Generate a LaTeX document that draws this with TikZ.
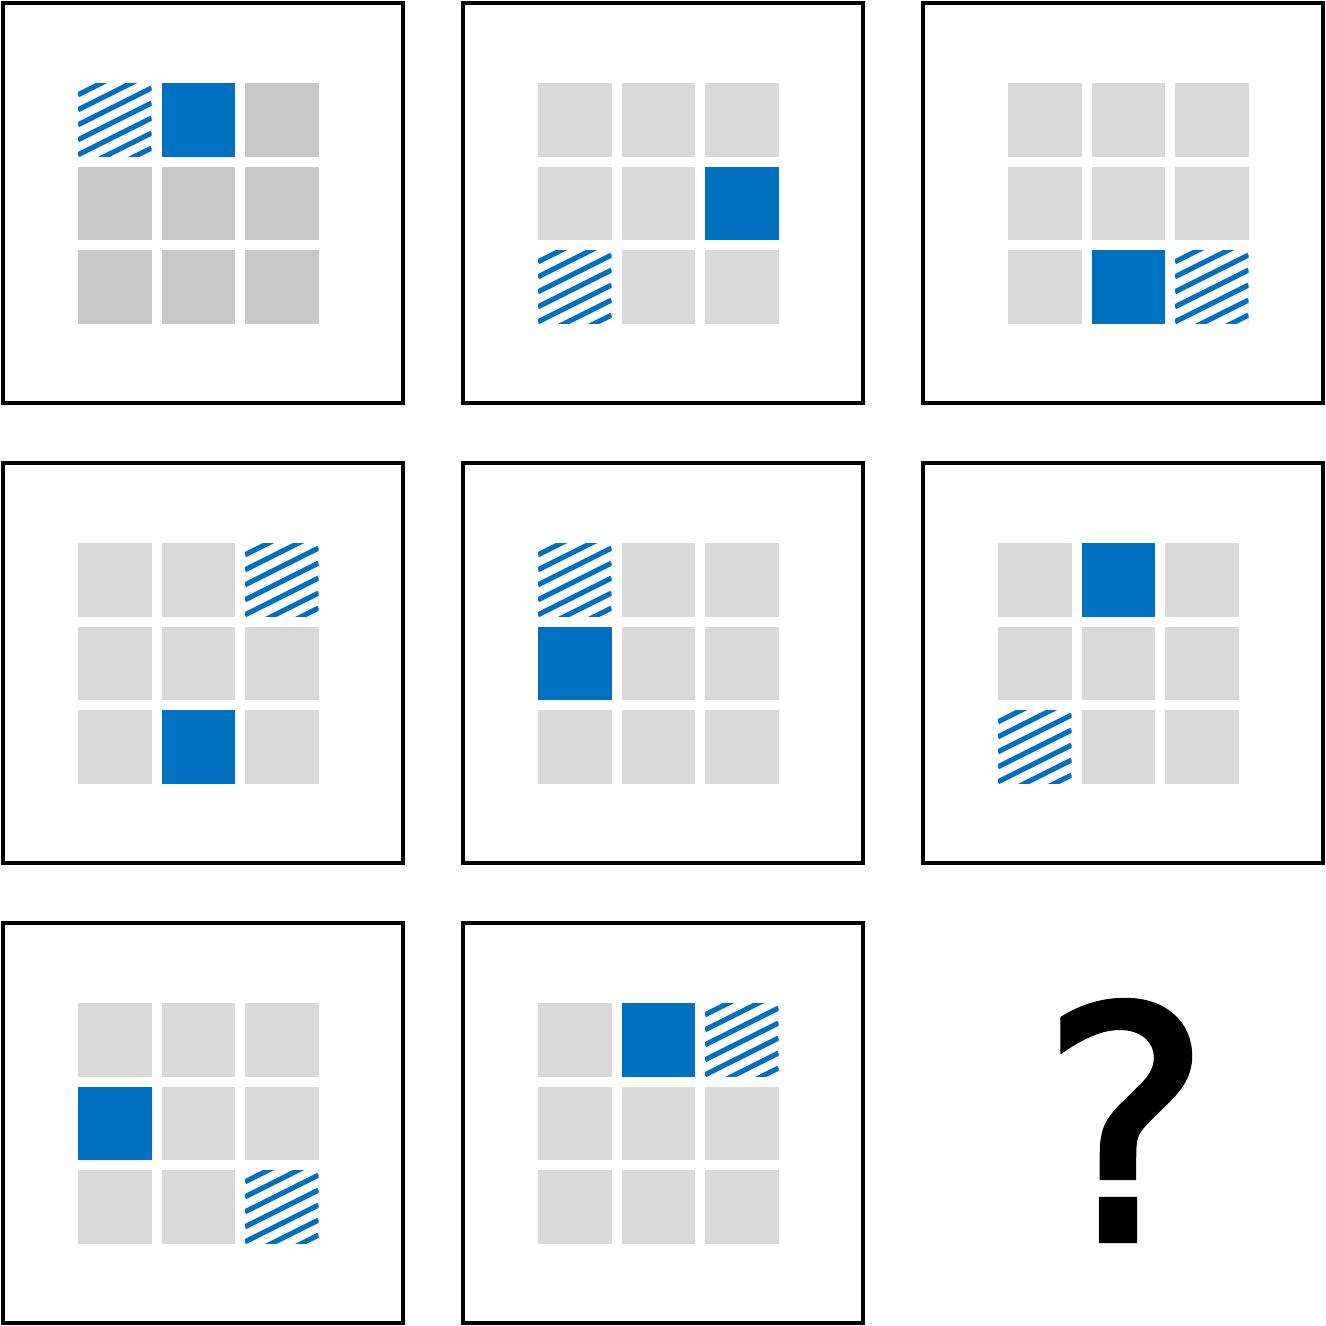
\documentclass[tikz,border=0pt]{standalone}
\usepackage{fontspec}
\newfontfamily\qfont[FakeBold=2]{DejaVu Sans}
\definecolor{qblue}{HTML}{0070C0}
\definecolor{qgray}{HTML}{D9D9D9}
\definecolor{qdark}{HTML}{C8C8C8}
\tikzset{
  panelframe/.style={draw=black, line width=4pt, fill=none, minimum width=400pt, minimum height=400pt, inner sep=0pt, outer sep=0pt, anchor=north west},
  hatchline/.style={draw=qblue, line width=5.2pt},
  qmark/.style={inner sep=0pt, anchor=base, font=\qfont\fontsize{322}{322}\selectfont},
}
\begin{document}
\begin{tikzpicture}[x=1pt, y=-1pt]
\useasboundingbox (0,0) rectangle (1326,1326);
% frames
\node[panelframe] (p1) at (3,3) {};
\node[panelframe] (p2) at (463,3) {};
\node[panelframe] (p3) at (923,3) {};
\node[panelframe] (p4) at (3,463) {};
\node[panelframe] (p5) at (463,463) {};
\node[panelframe] (p6) at (923,463) {};
\node[panelframe] (p7) at (3,923) {};
\node[panelframe] (p8) at (463,923) {};
% grids
\foreach \gx/\gy/\gc/\bc/\br/\hc/\hr in {
  78/83/qdark/1/0/0/0,
  538/83/qgray/2/1/0/2,
  1008/83/qgray/1/2/2/2,
  78/543/qgray/1/2/2/0,
  538/543/qgray/0/1/0/0,
  998/543/qgray/1/0/0/2,
  78/1003/qgray/0/1/2/2,
  538/1003/qgray/1/0/2/0} {
  \foreach \c in {0,1,2} {
    \foreach \r in {0,1,2} {
      \fill[\gc] ({\gx+83.5*\c},{\gy+83.5*\r}) rectangle ++(73.5,73.5);
    }
  }
  \fill[qblue] ({\gx+83.5*\bc},{\gy+83.5*\br}) rectangle ++(73.5,73.5);
  \begin{scope}
    \clip ({\gx+83.5*\hc},{\gy+83.5*\hr}) rectangle ++(73.5,73.5);
    \fill[white] ({\gx+83.5*\hc},{\gy+83.5*\hr}) rectangle ++(73.5,73.5);
    \foreach \k in {-1,...,7} {
      \draw[hatchline] ({\gx+83.5*\hc},{\gy+83.5*\hr+11.8+15*\k}) -- ++(73.5,-36.75);
    }
  \end{scope}
}
% question mark
\node[qmark] (q) at (1126,1240) {?};
\end{tikzpicture}
\end{document}
